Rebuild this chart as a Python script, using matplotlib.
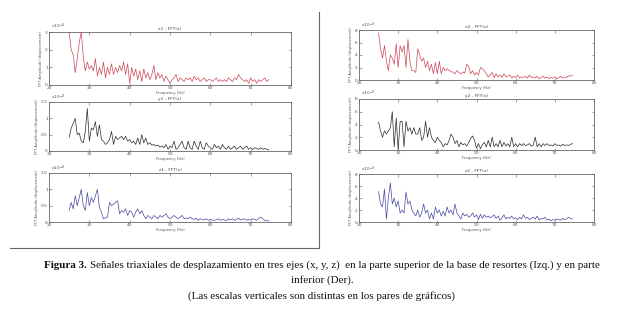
import matplotlib.pyplot as plt
import numpy as np
from matplotlib.lines import Line2D
from matplotlib.ticker import FuncFormatter

# frequency bins (Hz)
freq = np.arange(25, 75, 0.5)

# left column: upper part of spring base (units of 1e-8)
x1 = [3.0, 2.0, 1.7, 0.7, 1.5, 2.4, 3.0, 1.6, 0.8, 1.3,
      0.9, 1.1, 0.8, 1.5, 0.5, 1.0, 0.6, 1.3, 0.4, 1.0,
      0.6, 1.2, 0.6, 1.0, 0.7, 1.1, 0.8, 1.3, 0.6, 1.2,
      0.1, 1.0, 0.5, 0.9, 0.3, 0.8, 0.2, 0.9, 0.4, 0.7,
      0.3, 0.6, 1.1, 0.3, 0.7, 0.4, 0.6, 0.2, 0.5, 0.3,
      0.1, 0.3, 0.4, 0.6, 0.2, 0.4, 0.3, 0.2, 0.4, 0.3,
      0.4, 0.2, 0.5, 0.3, 0.4, 0.2, 0.3, 0.4, 0.2, 0.3,
      0.3, 0.2, 0.3, 0.4, 0.2, 0.3, 0.2, 0.3, 0.2, 0.4,
      0.3, 0.2, 0.4, 0.3, 0.6, 0.4, 0.3, 0.2, 0.3, 0.1,
      0.4, 0.2, 0.3, 0.1, 0.3, 0.2, 0.3, 0.4, 0.2, 0.3]
y1 = [0.42, 0.7, 0.85, 1.0, 0.5, 0.55, 0.3, 0.25, 0.6, 1.3,
      0.3, 0.7, 0.65, 0.9, 0.45, 0.8, 0.35, 0.3, 0.2, 0.25,
      0.35, 0.6, 0.2, 0.45, 0.35, 0.4, 0.45, 0.35, 0.45, 0.3,
      0.35, 0.25, 0.3, 0.2, 0.4, 0.2, 0.5, 0.25, 0.4, 0.2,
      0.25, 0.18, 0.2, 0.15, 0.18, 0.12, 0.15, 0.1, 0.2, 0.05,
      0.15, 0.1, 0.3, 0.05, 0.1, 0.2, 0.3, 0.1, 0.05, 0.3,
      0.1, 0.05, 0.3, 0.15, 0.05, 0.3, 0.1, 0.05, 0.25, 0.15,
      0.1, 0.05, 0.2, 0.1, 0.15, 0.05, 0.2, 0.1, 0.05, 0.15,
      0.05, 0.1, 0.15, 0.05, 0.1, 0.15, 0.05, 0.1, 0.15, 0.05,
      0.1, 0.05, 0.1, 0.08, 0.05, 0.1, 0.05, 0.08, 0.05, 0.03]
z1 = [0.36, 0.6, 0.4, 0.8, 0.5, 0.75, 1.0, 0.5, 0.35, 0.9,
      0.5, 0.75, 0.6, 0.8, 1.0, 0.45, 0.3, 0.1, 0.12, 0.15,
      0.6, 0.5, 0.55, 0.6, 0.65, 0.25, 0.35, 0.3, 0.4, 0.2,
      0.35, 0.3, 0.15, 0.3, 0.4, 0.25, 0.35, 0.2, 0.1, 0.2,
      0.15, 0.1, 0.2, 0.15, 0.1, 0.2, 0.15, 0.2, 0.25, 0.15,
      0.1, 0.15, 0.2, 0.15, 0.1, 0.15, 0.2, 0.1, 0.12, 0.1,
      0.15, 0.1, 0.08, 0.12, 0.05, 0.1, 0.08, 0.06, 0.1, 0.05,
      0.08, 0.06, 0.05, 0.07, 0.1, 0.05, 0.08, 0.06, 0.05, 0.1,
      0.06, 0.1, 0.05, 0.08, 0.12, 0.06, 0.08, 0.1, 0.05, 0.08,
      0.06, 0.1, 0.08, 0.05, 0.12, 0.15, 0.1, 0.05, 0.04, 0.03]

# right column: lower part of spring base (units of 1e-9)
x2 = [7.5, 5.0, 3.5, 5.5, 3.0, 1.5, 4.0, 3.5, 2.5, 5.8,
      2.0, 5.5, 4.5, 5.5, 2.0, 6.5, 3.0, 1.5, 1.5, 1.2,
      5.0, 4.0, 3.0, 3.5, 2.0, 3.0, 1.5, 2.5, 1.0, 2.8,
      1.0, 3.0, 1.0, 2.0, 1.5, 1.8, 1.5, 1.4, 1.2, 1.0,
      1.5, 1.2, 1.0, 1.3, 1.1, 2.5, 2.2, 1.0, 1.5, 0.8,
      1.2, 0.8, 2.0, 1.8, 1.5, 1.0, 0.5, 0.8, 1.2, 0.4,
      1.0, 0.5, 0.8, 0.4, 1.0, 0.5, 0.6, 0.8, 0.3, 0.6,
      0.4, 0.8, 0.3, 0.5, 0.4, 0.6, 0.3, 0.8, 0.4, 0.5,
      0.3, 0.6, 0.2, 0.4, 0.6, 0.3, 0.5, 0.2, 0.4, 0.3,
      0.5, 0.2, 0.4, 0.6, 0.3, 0.5, 0.4, 0.7, 0.6, 0.8]
y2 = [4.4, 3.0, 2.0, 3.0, 2.5, 3.0, 3.5, 6.0, 0.5, 5.0,
      0.0, 4.5, 4.5, 0.5, 4.5, 3.0, 3.5, 2.5, 3.5, 2.5,
      2.5, 3.5, 1.5, 2.0, 4.5, 2.0, 3.5, 2.0, 1.5, 1.2,
      2.0, 1.5, 1.2, 0.5, 1.0, 0.8, 1.5, 2.5, 2.0, 1.0,
      1.5, 0.5, 1.2, 0.8, 1.0, 0.6, 1.2, 1.8, 2.2, 1.5,
      0.3, 1.0, 0.2, 0.8, 1.2, 0.5, 1.5, 0.5, 2.0, 0.5,
      1.0, 0.5, 1.5, 0.5, 1.2, 0.6, 1.0, 0.5, 2.0, 0.5,
      1.0, 0.5, 1.0, 0.7, 1.0, 0.7, 0.8, 1.0, 0.6, 0.8,
      2.0, 0.5, 1.0, 0.5, 1.0, 0.7, 1.0, 0.7, 0.8, 0.6,
      1.0, 0.7, 0.8, 0.6, 0.9, 0.7, 0.8, 0.7, 0.9, 1.0]
z2 = [5.1, 3.0, 2.5, 5.5, 0.5, 4.0, 6.5, 3.0, 4.0, 2.5,
      3.5, 1.5, 2.0, 1.5, 5.0, 3.0, 3.5, 2.0, 1.5, 1.0,
      2.0, 0.8, 1.5, 3.0, 1.5, 2.0, 0.5, 1.5, 0.5, 2.5,
      1.5, 2.0, 1.0, 1.8, 1.0, 2.5, 1.5, 2.0, 1.2, 3.0,
      1.5, 1.0, 0.5, 1.5, 1.0, 1.3, 0.8, 1.0, 1.5, 0.8,
      1.2, 0.4, 1.3, 0.6, 1.2, 0.8, 1.0, 0.7, 0.9, 1.2,
      0.6, 1.0, 0.3, 0.7, 1.2, 0.5, 0.8, 0.6, 1.0, 0.5,
      0.7, 0.4, 0.8, 0.5, 1.2, 0.6, 0.8, 0.4, 0.6, 0.8,
      0.5, 1.0, 0.3, 0.6, 0.5, 0.8, 0.3, 0.5, 0.2, 0.4,
      0.3, 0.5, 0.4, 0.3, 0.6, 0.4, 0.5, 0.8, 0.6, 0.5]

titles = ["x1 - FFT(x)", "y1 - FFT(x)", "z1 - FFT(x)",
          "x2 - FFT(x)", "y2 - FFT(x)", "z2 - FFT(x)"]
xticks = [20, 30, 40, 50, 60, 70, 80]

W, H = 640, 313
fig = plt.figure(figsize=(W / 100, H / 100), dpi=100)

# (series, title, color, ymax, ystep, exponent, [left, top, right, bottom] in px)
panels = [
    (x1, titles[0], '#cc4656', 3, 1, -8, [49, 32, 291, 85]),
    (y1, titles[1], '#2a2a2a', 1.5, 0.5, -8, [49, 102, 291, 151]),
    (z1, titles[2], '#4848a0', 1.5, 0.5, -8, [49, 173, 291, 222]),
    (x2, titles[3], '#cc4656', 8, 2, -9, [359, 30, 594, 80]),
    (y2, titles[4], '#2a2a2a', 8, 2, -9, [359, 99, 594, 150]),
    (z2, titles[5], '#4848a0', 8, 2, -9, [359, 174, 594, 222]),
]

fmt = FuncFormatter(lambda v, p: '%g' % v)
for vals, title, color, ymax, ystep, expo, (l, t, r, b) in panels:
    ax = fig.add_axes([l / W, 1 - b / H, (r - l) / W, (b - t) / H])
    ax.plot(freq, vals, color=color, lw=0.5)
    ax.set_xlim(20, 80)
    ax.set_ylim(0, ymax)
    ax.set_xticks(xticks)
    ax.set_yticks(np.arange(0, ymax + ystep / 2, ystep))
    ax.yaxis.set_major_formatter(fmt)
    ax.tick_params(direction='in', length=1.8, width=0.4, labelsize=3.2,
                   top=True, right=True, pad=0.8, colors='#555555')
    for s in ax.spines.values():
        s.set_linewidth(0.6)
        s.set_color('#666666')
    ax.set_title(title, fontsize=3.2, pad=1.2, color='#444444')
    ax.set_xlabel('Frequency (Hz)', fontsize=2.7, labelpad=0.3, color='#555555')
    ax.set_ylabel('FFT Amplitude (displacement)', fontsize=2.6, labelpad=1.5, color='#555555')
    ax.text(0.01, 1.01, r'x10$^{%d}$' % expo, transform=ax.transAxes,
            fontsize=3.2, color='#555555', va='bottom')

# shadow frame around left figure
fig.add_artist(Line2D([319 / W, 319 / W], [1 - 12 / H, 1 - 248 / H], color='#666666', lw=0.8))
fig.add_artist(Line2D([10 / W, 319 / W], [1 - 248 / H, 1 - 248 / H], color='#666666', lw=0.8))

# caption
cap_font = dict(family='Liberation Serif', fontsize=7.9, color='#111111', va='center')
fig.canvas.draw()
rend = fig.canvas.get_renderer()
cx = 322
t1 = fig.text(0, 1 - 265 / H, 'Figura 3.', fontweight='bold', **cap_font)
t2 = fig.text(0, 1 - 265 / H,
              'Señales triaxiales de desplazamiento en tres ejes (x, y, z)  en la parte superior '
              'de la base de resortes (Izq.) y en parte', **cap_font)
w1 = t1.get_window_extent(rend).width
w2 = t2.get_window_extent(rend).width
gap = 3
x0 = cx - (w1 + gap + w2) / 2
t1.set_x(x0 / W)
t2.set_x((x0 + w1 + gap) / W)
fig.text(cx / W, 1 - 280 / H, 'inferior (Der).', ha='center', **cap_font)
fig.text(cx / W, 1 - 296 / H, '(Las escalas verticales son distintas en los pares de gráficos)',
         ha='center', **cap_font)

fig.savefig('out.png', dpi=100)
